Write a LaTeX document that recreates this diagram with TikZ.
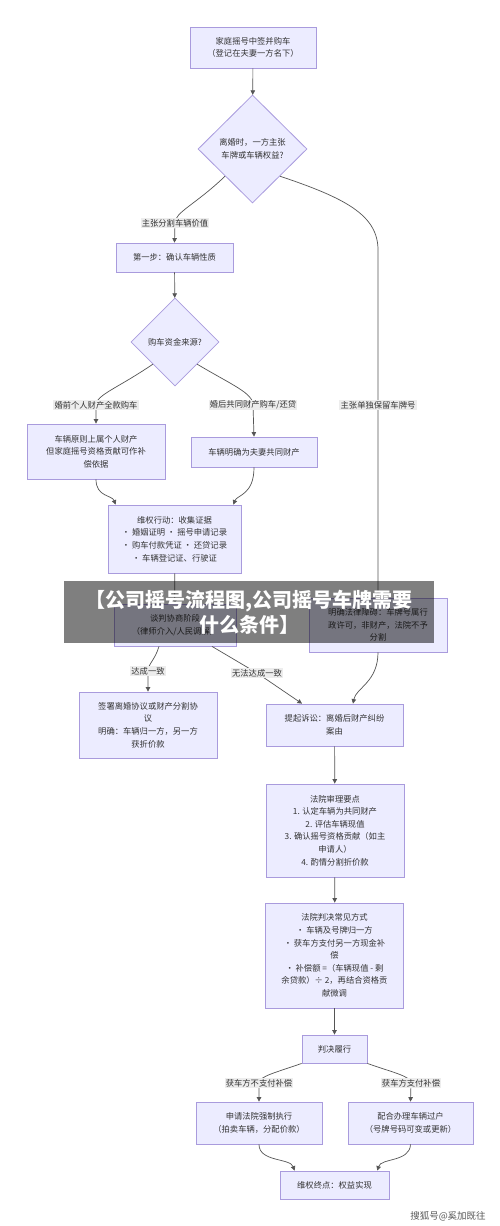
\documentclass[tikz,border=0pt]{standalone}
\usepackage{fontspec}
\setmainfont{Noto Sans CJK SC}
\usetikzlibrary{shapes.geometric,arrows.meta}
\definecolor{nfill}{HTML}{ECECFF}
\definecolor{nborder}{HTML}{A99BDD}
\definecolor{edgec}{HTML}{555555}
\definecolor{txt}{HTML}{333333}
\definecolor{lblbg}{HTML}{EDEDED}
\begin{document}
\begin{tikzpicture}[x=1pt,y=-1pt,
  nfont/.style={font=\fontsize{8.3}{12.6}\selectfont},
  box/.style={draw=nborder, fill=nfill, line width=0.8pt, inner sep=0pt, align=center, text=txt, nfont},
  bx/.style 2 args={box, minimum width=#1, minimum height=#2},
  dia/.style={diamond, shape aspect=1, draw=nborder, fill=nfill, line width=0.8pt, inner sep=0pt, align=center, text=txt, nfont},
  lbl/.style={fill=lblbg, inner sep=1.2pt, text=txt, nfont},
  arr/.style={draw=edgec, line width=0.7pt, -{Triangle[length=4.5pt,width=4.5pt]}},
  ln/.style={draw=edgec, line width=0.7pt}]
\path[use as bounding box, fill=white] (0,0) rectangle (500,1226);

% nodes
\node[bx={126pt}{41pt}] (b1) at (253,47.5) {家庭摇号中签并购车\\（登记在夫妻一方名下）};
\node[dia, minimum width=109pt, minimum height=108pt] (d1) at (252.5,149) {离婚时，一方主张\\车牌或车辆权益?};
\node[bx={117pt}{29pt}] (b2) at (174.5,257.5) {第一步：确认车辆性质};
\node[dia, minimum width=88pt, minimum height=88pt] (d2) at (175,342) {购车资金来源?};
\node[bx={138pt}{55pt}] (b3) at (96,451.5) {车辆原则上属个人财产\\但家庭摇号资格贡献可作补\\偿依据};
\node[bx={126pt}{30pt}] (b4) at (254,452) {车辆明确为夫妻共同财产};
\node[bx={133pt}{68pt}] (b5) at (174.5,539) {维权行动：收集证据\\• 婚姻证明 • 摇号申请记录\\• 购车付款凭证 • 还贷记录\\• 车辆登记证、行驶证};
\node[bx={122pt}{42pt}] (b6) at (175,625) {谈判协商阶段\\（律师介入/人民调解）};
\node[bx={138pt}{54pt}] (b7) at (378,625) {明确法律障碍：车牌号属行\\政许可，非财产，法院不予\\分割};
\node[bx={138pt}{66pt}] (b8) at (148,725) {签署离婚协议或财产分割协\\议\\明确：车辆归一方，另一方\\获折价款};
\node[bx={137pt}{42pt}] (b9) at (334.5,725) {提起诉讼：离婚后财产纠纷\\案由};
\node[bx={138pt}{93pt}] (b10) at (335,830.5) {法院审理要点\\1. 认定车辆为共同财产\\2. 评估车辆现值\\3. 确认摇号资格贡献（如主\\申请人）\\4. 酌情分割折价款};
\node[bx={138pt}{105pt}] (b11) at (334.5,955.5) {法院判决常见方式\\• 车辆及号牌归一方\\• 获车方支付另一方现金补\\偿\\• 补偿额 =（车辆现值 - 剩\\余贷款）÷ 2，再结合资格贡\\献微调};
\node[bx={65pt}{28pt}] (b12) at (334.5,1049) {判决履行};
\node[bx={126pt}{42pt}] (b13) at (259,1123) {申请法院强制执行\\（拍卖车辆，分配价款）};
\node[bx={125pt}{42pt}] (b14) at (410.5,1123) {配合办理车辆过户\\（号牌号码可变或更新）};
\node[bx={109pt}{28pt}] (b15) at (334.5,1185) {维权终点：权益实现};

% label positions
\coordinate (l1) at (175,223);
\coordinate (l3) at (378,405);
\coordinate (l4) at (96,405);
\coordinate (l5) at (253,405);
\coordinate (l6) at (148,671);
\coordinate (l7) at (257,673);
\coordinate (l8) at (259,1083);
\coordinate (l9) at (411,1083);

% edges
\draw[arr] (b1) -- (d1);
\draw[arr] (d1.south west) .. controls (195,205) and (175,212) .. (l1) -- (b2.north);
\draw[arr] (d1.south east) .. controls (345,198) and (378,215) .. (378,250) -- (l3) -- (b7.north);
\draw[arr] (b2) -- (d2);
\draw[arr] (d2.south west) .. controls (118,388) and (96,395) .. (l4) -- (b3.north);
\draw[arr] (d2.south east) .. controls (232,385) and (253,393) .. (l5) -- (b4.north);
\draw[arr] (b3.south) .. controls (96,497) and (112,495) .. ([xshift=8pt]b5.north west);
\draw[arr] (b4.south) .. controls (254,495) and (237,495) .. ([xshift=-8pt]b5.north east);
\draw[arr] (b5) -- (b6);
\draw[arr] ([xshift=-16pt]b6.south) .. controls (155,660) and (148,664) .. (l6) -- (b8.north);
\draw[arr] ([xshift=37pt]b6.south) -- (l7) -- ([xshift=-32.5pt]b9.north);
\draw[arr] (b7.south) .. controls (378,682) and (356,688) .. ([xshift=18.5pt]b9.north);
\draw[arr] (b9) -- (b10);
\draw[arr] (b10) -- (b11);
\draw[arr] (b11) -- (b12);
\draw[arr] (b12.south west) .. controls (278,1072) and (259,1076) .. (l8) -- (b13.north);
\draw[arr] (b12.south east) .. controls (391,1072) and (411,1076) .. (l9) -- (b14.north);
\draw[arr] (b13.south) .. controls (259,1162) and (290,1158) .. ([xshift=15pt]b15.north west);
\draw[arr] (b14.south) .. controls (410,1162) and (381,1158) .. ([xshift=-12pt]b15.north east);

% edge labels
\node[lbl] (t1) at (l1) {主张分割车辆价值};
\node[lbl] (t3) at (l3) {主张单独保留车牌号};
\node[lbl] (t4) at (l4) {婚前个人财产全款购车};
\node[lbl] (t5) at (l5) {婚后共同财产购车/还贷};
\node[lbl] (t6) at (l6) {达成一致};
\node[lbl] (t7) at (l7) {无法达成一致};
\node[lbl] (t8) at (l8) {获车方不支付补偿};
\node[lbl] (t9) at (l9) {获车方支付补偿};

% banner overlay
\fill[black, fill opacity=0.5] (64,581) rectangle (434,643);
\node[text=white, align=center, inner sep=0pt, font=\fontsize{20}{25}\selectfont\bfseries] (banner) at (249,612.5) {【公司摇号流程图,公司摇号车牌需要\\什么条件】};

% watermark
\node[text=black!65, inner sep=0pt, font=\fontsize{9.5}{11}\selectfont] (wm) at (448,1216) {搜狐号@奚加既往};
\end{tikzpicture}
\end{document}
